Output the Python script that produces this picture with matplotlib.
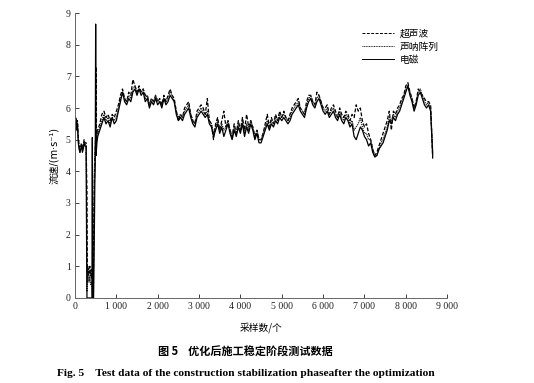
import numpy as np
import matplotlib
matplotlib.use("Agg")
import matplotlib.pyplot as plt

plt.rcParams['font.family'] = ['Liberation Serif', 'Noto Sans CJK SC', 'DejaVu Sans']

# sample index grid: coarse start, fine around the dropout, then every 50 samples
samples = np.concatenate([np.arange(0, 261, 20), np.arange(270, 541, 10), np.arange(550, 8651, 50)])

labels = ['超声波', '声呐阵列', '电磁']

ultrasonic = [
    5.2, 5.7, 5.5, 5.6, 5.1, 4.8, 4.7, 4.8, 4.9, 4.7, 4.8, 5.0, 4.9, 4.9,
    4.9, 4.0, 3.45, 0.5, 1.0, 0.9, 0.7, 0.8, 0.9, 1.0, 0.8, 0.7, 0.8, 0.9,
    0.6, 0.8, 0.0, 0.0, 1.5, 3.0, 3.8, 4.4, 4.7, 5.0, 7.3, 5.0, 5.1, 5.3,
    5.3, 5.5, 5.8, 5.9, 5.7, 5.8, 5.6, 5.8, 5.7, 5.9,
    6.1, 6.4, 6.6, 6.3, 6.2, 6.5, 6.4, 6.9, 6.7, 6.5,
    6.7, 6.5, 6.6, 6.4, 6.4, 6.1, 6.3, 6.2, 6.4, 6.2,
    6.3, 6.1, 6.4, 6.2, 6.4, 6.6, 6.4, 6.3, 5.9, 5.6,
    5.8, 5.7, 6.0, 6.1, 6.2, 5.8, 5.6, 5.5, 5.9, 6.0,
    6.1, 6.0, 5.8, 6.3, 5.6, 5.5, 5.0, 5.5, 5.7, 5.3,
    5.6, 5.9, 5.4, 5.6, 5.3, 5.1, 5.5, 5.2, 5.6, 5.3,
    5.7, 5.3, 5.8, 5.4, 5.6, 5.4, 5.1, 5.3, 5.0, 5.0,
    5.2, 5.5, 5.8, 5.4, 5.7, 5.5, 5.8, 5.6, 5.9, 5.7,
    5.9, 5.7, 5.6, 5.8, 6.0, 6.1, 6.2, 6.3, 6.0, 5.9,
    5.8, 6.2, 6.4, 6.4, 6.2, 6.1, 6.5, 6.4, 6.2, 6.0,
    6.0, 6.1, 5.8, 6.0, 6.1, 5.9, 5.7, 6.0, 5.8, 5.7,
    5.9, 5.8, 5.6, 5.8, 5.7, 6.1, 5.9, 6.0, 5.6, 5.4,
    5.5, 5.2, 5.0, 4.7, 4.5, 4.6, 4.8, 5.0, 5.2, 5.4,
    5.6, 5.9, 5.3, 5.9, 5.8, 6.0, 6.1, 6.3, 6.4, 6.7,
    6.8, 6.5, 6.3, 6.0, 6.2, 6.6, 6.5, 6.4, 6.3, 6.2,
    6.2, 6.1, 4.4,
]

sonar = [
    5.1, 5.7, 5.4, 5.5, 5.0, 4.8, 4.6, 4.7, 4.8, 4.7, 4.8, 4.9, 4.9, 4.8,
    4.8, 3.0, 0.2, 0.5, 0.8, 0.7, 0.6, 0.5, 0.6, 0.7, 0.6, 0.5, 0.4, 0.5,
    0.3, 0.2, 0.0, 0.5, 2.0, 3.2, 4.0, 4.5, 4.8, 5.0, 5.1, 5.1, 5.2, 5.3,
    5.2, 5.4, 5.6, 5.8, 5.6, 5.7, 5.5, 5.7, 5.6, 5.7,
    6.0, 6.3, 6.5, 6.3, 6.2, 6.4, 6.3, 6.6, 6.7, 6.5,
    6.6, 6.5, 6.6, 6.3, 6.4, 6.1, 6.3, 6.2, 6.4, 6.2,
    6.2, 6.1, 6.3, 6.2, 6.3, 6.5, 6.4, 6.2, 5.9, 5.7,
    5.8, 5.7, 5.9, 6.0, 6.1, 5.8, 5.6, 5.5, 5.8, 5.9,
    6.0, 5.9, 5.8, 5.9, 5.6, 5.5, 5.2, 5.4, 5.6, 5.3,
    5.5, 5.3, 5.4, 5.6, 5.3, 5.1, 5.4, 5.2, 5.5, 5.3,
    5.6, 5.2, 5.5, 5.3, 5.6, 5.4, 5.1, 5.3, 5.0, 5.0,
    5.2, 5.4, 5.6, 5.4, 5.6, 5.5, 5.7, 5.6, 5.8, 5.7,
    5.8, 5.7, 5.6, 5.7, 5.9, 6.0, 6.1, 6.2, 6.0, 5.9,
    5.8, 6.1, 6.3, 6.4, 6.2, 6.1, 6.3, 6.4, 6.2, 6.0,
    5.9, 6.0, 5.8, 5.9, 6.0, 5.8, 5.7, 5.9, 5.7, 5.6,
    5.8, 5.7, 5.5, 5.6, 5.3, 5.4, 5.5, 5.7, 5.4, 5.2,
    5.2, 5.0, 5.0, 4.7, 4.5, 4.5, 4.7, 4.9, 5.0, 5.2,
    5.4, 5.7, 5.6, 5.8, 5.7, 5.9, 6.0, 6.2, 6.4, 6.6,
    6.7, 6.5, 6.3, 6.0, 6.2, 6.5, 6.6, 6.4, 6.2, 6.1,
    6.2, 6.0, 4.6,
]

electromagnetic = [
    5.0, 5.6, 5.3, 5.5, 4.9, 4.7, 4.6, 4.7, 4.8, 4.6, 4.7, 4.9, 4.8, 4.8,
    4.8, 2.0, 0.0, 0.0, 0.0, 0.0, 0.0, 0.0, 0.0, 0.0, 0.0, 0.0, 0.0, 0.0,
    0.0, 5.07, 0.0, 0.0, 0.0, 1.0, 2.5, 3.6, 4.2, 8.65, 4.5, 4.7, 4.9, 5.0,
    5.1, 5.3, 5.5, 5.7, 5.5, 5.6, 5.4, 5.7, 5.5, 5.6,
    5.9, 6.2, 6.5, 6.2, 6.1, 6.3, 6.2, 6.5, 6.6, 6.4,
    6.6, 6.4, 6.5, 6.2, 6.3, 6.0, 6.2, 6.1, 6.3, 6.1,
    6.2, 6.0, 6.3, 6.1, 6.2, 6.4, 6.3, 6.2, 5.8, 5.6,
    5.7, 5.6, 5.8, 5.9, 6.0, 5.7, 5.5, 5.4, 5.7, 5.8,
    5.9, 5.8, 5.7, 5.8, 5.5, 5.4, 5.1, 5.3, 5.5, 5.2,
    5.4, 5.1, 5.3, 5.5, 5.2, 5.0, 5.3, 5.1, 5.4, 5.2,
    5.5, 5.1, 5.4, 5.2, 5.5, 5.3, 5.0, 5.2, 4.9, 4.9,
    5.1, 5.3, 5.5, 5.3, 5.5, 5.4, 5.6, 5.5, 5.7, 5.6,
    5.7, 5.6, 5.5, 5.6, 5.8, 5.9, 6.0, 6.1, 5.9, 5.8,
    5.7, 6.0, 6.2, 6.3, 6.1, 6.0, 6.2, 6.3, 6.1, 5.9,
    5.8, 5.9, 5.7, 5.8, 5.9, 5.7, 5.6, 5.8, 5.6, 5.5,
    5.7, 5.6, 5.4, 5.5, 5.1, 5.0, 5.2, 5.4, 5.3, 5.1,
    5.0, 4.8, 4.9, 4.6, 4.45, 4.5, 4.7, 4.8, 4.9, 5.1,
    5.3, 5.6, 5.5, 5.7, 5.6, 5.8, 5.9, 6.1, 6.3, 6.5,
    6.7, 6.4, 6.2, 5.9, 6.1, 6.4, 6.5, 6.3, 6.1, 6.0,
    6.1, 5.9, 4.5,
]

xticks = list(range(0, 9001, 1000))
xticklabels = ['0' if t == 0 else f'{t // 1000} 000' for t in xticks]

fig = plt.figure(figsize=(5.34, 3.83), dpi=100)
ax = fig.add_axes([0.1404, 0.222, 0.697, 0.744])

ax.plot(samples, ultrasonic, color='k', lw=0.9, ls=(0, (3, 1.5)), label=labels[0])
ax.plot(samples, sonar, color='#222222', lw=0.9, ls=(0, (1, 0.7)), label=labels[1])
ax.plot(samples, electromagnetic, color='k', lw=0.9, ls='-', label=labels[2])

ax.set_xlim(0, 9000)
ax.set_ylim(0, 9)
ax.set_xticks(xticks)
ax.set_xticklabels(xticklabels)
ax.set_yticks(range(0, 10))
ax.tick_params(direction='in', length=3, width=0.6, labelsize=7, colors='#222222', pad=3)
for s in ['top', 'right']:
    ax.spines[s].set_visible(False)
for s in ['left', 'bottom']:
    ax.spines[s].set_linewidth(0.7)
    ax.spines[s].set_color('#666666')

ax.set_xlabel('采样数/个', fontsize=7, family=['Noto Sans CJK SC', 'DejaVu Sans'], labelpad=8)
ax.set_ylabel('流速/(m·s⁻¹)', fontsize=7, family=['DejaVu Sans', 'Noto Sans CJK SC'], labelpad=5)

leg = ax.legend(loc='upper right', bbox_to_anchor=(1.0, 0.975), frameon=False, handlelength=3.2,
                handletextpad=0.6, labelspacing=0.3, prop={'family': 'Noto Sans CJK SC', 'size': 7})
for line in leg.get_lines():
    line.set_linewidth(0.7)

fig.text(0.46, 0.08, '图 5    优化后施工稳定阶段测试数据', ha='center', va='center', fontsize=8,
         family=['Noto Sans CJK SC', 'DejaVu Sans'], weight='bold')
fig.text(0.46, 0.025, 'Fig. 5    Test data of the construction stabilization phaseafter the optimization',
         ha='center', va='center', fontsize=8.2, family='Liberation Serif', weight='bold')

fig.savefig('out.png', dpi=100)
